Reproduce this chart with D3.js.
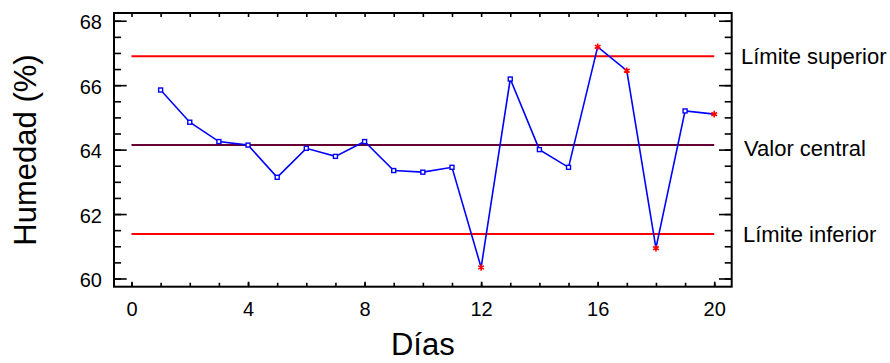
<!DOCTYPE html>
<html>
<head>
<meta charset="utf-8">
<script src="https://cdn.jsdelivr.net/npm/d3@7"></script>
<style>
  html, body { margin: 0; padding: 0; background: #fff; }
  svg { display: block; font-family: "Liberation Sans", Arial, sans-serif; }
</style>
</head>
<body>
<svg id="chart" width="890" height="363"></svg>
<script>
// ---- data ----
const days = [1, 2, 3, 4, 5, 6, 7, 8, 9, 10, 11, 12, 13, 14, 15, 16, 17, 18, 19, 20];
const humidity = [65.85, 64.85, 64.25, 64.14, 63.14, 64.04, 63.79, 64.25, 63.35, 63.30,
                  63.45, 60.34, 66.19, 64.00, 63.45, 67.19, 66.45, 60.94, 65.20, 65.10];
const flaggedDays = [12, 16, 17, 18, 20];
const limitNames = ["Límite superior", "Valor central", "Límite inferior"];
const limitValues = [66.90, 64.14, 61.38];
const xTickValues = [0, 4, 8, 12, 16, 20];
const yTickValues = [60, 62, 64, 66, 68];
const xTitle = "Días";
const yTitle = "Humedad (%)";

// ---- layout ----
const svg = d3.select("#chart");
const L = 114, R = 731.7, T = 13, B = 286.7;
const x = d3.scaleLinear().domain([-0.6, 20.6]).range([L, R]);
const y = d3.scaleLinear().domain([59.745, 68.24]).range([B, T]);

const fs = 20;
const g = svg.append("g");

// minor ticks
const xMinor = d3.range(0, 21, 1);
const yMinor = d3.range(60, 68.01, 0.5);

function drawAxis(axis, transform, vals, size) {
  const a = g.append("g").attr("transform", transform)
    .call(axis.tickValues(vals).tickSize(size).tickFormat(""));
  a.select(".domain").remove();
  a.selectAll("line").attr("stroke", "#000").attr("stroke-width", 1.6);
}
// bottom (inward = up)
drawAxis(d3.axisTop(x), `translate(0,${B})`, xMinor, 4);
drawAxis(d3.axisTop(x), `translate(0,${B})`, xTickValues, 5);
// top (inward = down)
drawAxis(d3.axisBottom(x), `translate(0,${T})`, xMinor, 4);
// left (inward = right)
drawAxis(d3.axisRight(y), `translate(${L},0)`, yMinor, 7);
drawAxis(d3.axisRight(y), `translate(${L},0)`, yTickValues, 12.7);
// right (inward = left)
drawAxis(d3.axisLeft(y), `translate(${R},0)`, yMinor, 7);
drawAxis(d3.axisLeft(y), `translate(${R},0)`, yTickValues, 12.7);

// tick labels
const xl = g.append("g").attr("transform", `translate(0,${B})`)
  .call(d3.axisBottom(x).tickValues(xTickValues).tickSize(0).tickPadding(0).tickFormat(d3.format("d")));
xl.select(".domain").remove();
xl.selectAll("text").attr("font-size", fs).attr("font-family", "Liberation Sans, Arial, sans-serif")
  .attr("fill", "#000").attr("y", 29.5).attr("dy", 0);

const yl = g.append("g").attr("transform", `translate(${L},0)`)
  .call(d3.axisLeft(y).tickValues(yTickValues).tickSize(0).tickPadding(12).tickFormat(d3.format("d")));
yl.select(".domain").remove();
yl.selectAll("text").attr("font-size", fs).attr("font-family", "Liberation Sans, Arial, sans-serif")
  .attr("fill", "#000").attr("dy", "0.40em");

// control lines
const limitColors = ["#ff0000", "#660033", "#ff0000"];
g.selectAll(".lim").data(limitValues).enter().append("line")
  .attr("x1", x(0)).attr("x2", x(20))
  .attr("y1", d => y(d)).attr("y2", d => y(d))
  .attr("stroke", (d, i) => limitColors[i]).attr("stroke-width", 2);

// limit labels
const labelX = [741, 744, 743];
const labelDy = [8, 11, 8];
g.selectAll(".limlab").data(limitNames).enter().append("text")
  .attr("x", (d, i) => labelX[i])
  .attr("y", (d, i) => y(limitValues[i]) + labelDy[i])
  .attr("font-size", 22).attr("fill", "#000")
  .text(d => d);

// data line
const pts = days.map((d, i) => ({ day: d, v: humidity[i] }));
g.append("path").datum(pts)
  .attr("fill", "none").attr("stroke", "#0000ff").attr("stroke-width", 1.6)
  .attr("d", d3.line().x(d => x(d.day)).y(d => y(d.v)));

// markers
const normal = pts.filter(p => !flaggedDays.includes(p.day));
const flagged = pts.filter(p => flaggedDays.includes(p.day));
g.selectAll(".sq").data(normal).enter().append("rect")
  .attr("x", d => x(d.day) - 2).attr("y", d => y(d.v) - 2)
  .attr("width", 4).attr("height", 4)
  .attr("fill", "#fff").attr("stroke", "#0000ff").attr("stroke-width", 1.4);
const star = d3.symbol().type(d3.symbolAsterisk || d3.symbolCross).size(30);
g.selectAll(".st").data(flagged).enter().append("path")
  .attr("transform", d => `translate(${x(d.day)},${y(d.v)})`)
  .attr("d", star)
  .attr("fill", "none").attr("stroke", "#ff0000").attr("stroke-width", 1.6);

// frame
g.append("rect").attr("x", L).attr("y", T).attr("width", R - L).attr("height", B - T)
  .attr("fill", "none").attr("stroke", "#000").attr("stroke-width", 2);

// axis titles
g.append("text").attr("x", (x(0) + x(20)) / 2).attr("y", 355)
  .attr("text-anchor", "middle").attr("font-size", 31).attr("fill", "#000").text(xTitle);
g.append("text").attr("transform", `translate(36,150) rotate(-90)`)
  .attr("text-anchor", "middle").attr("font-size", 31).attr("fill", "#000").text(yTitle);
</script>
</body>
</html>
